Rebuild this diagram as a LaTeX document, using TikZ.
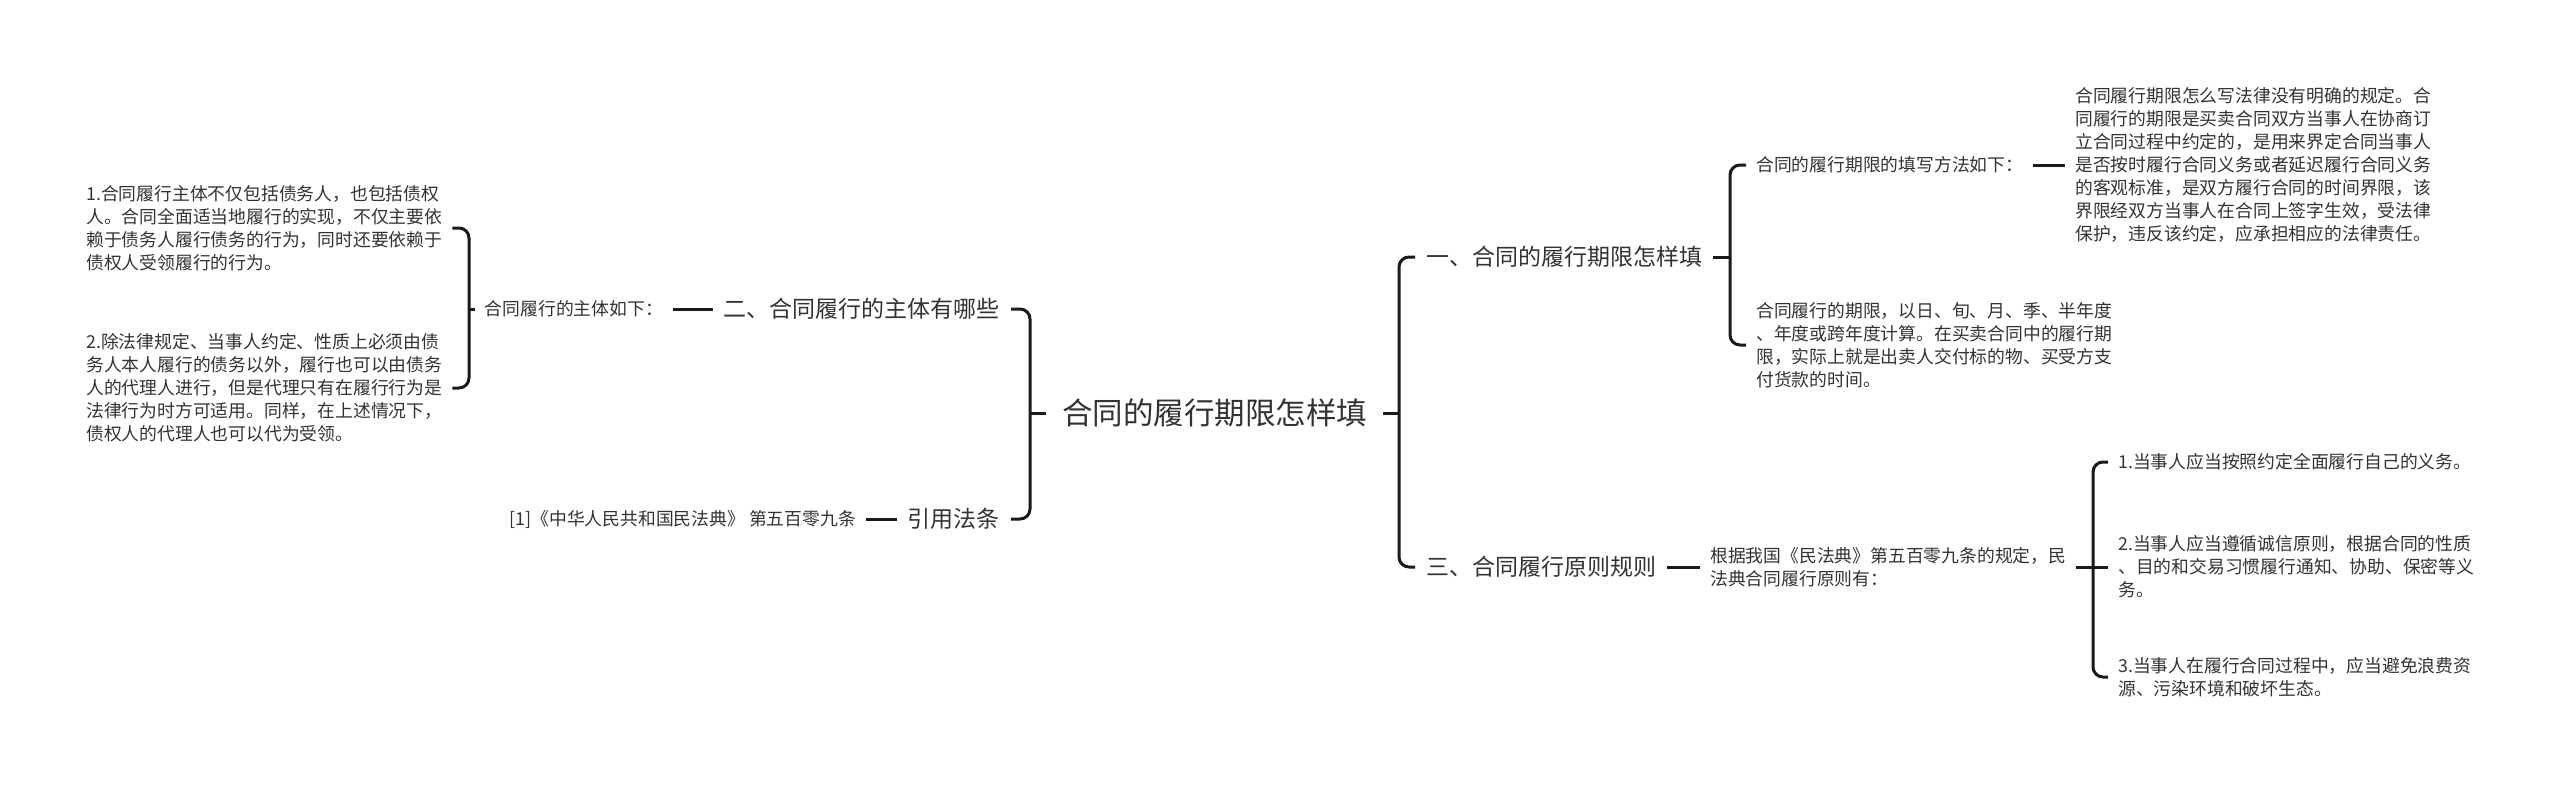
\documentclass[tikz,border=0pt]{standalone}
\usepackage{fontspec}
\setmainfont{Noto Sans CJK SC}
\definecolor{txtc}{HTML}{333333}
\definecolor{linec}{HTML}{1A1A1A}
\begin{document}
\begin{tikzpicture}[x=1pt,y=-1pt,
  line/.style={line width=3pt, draw=linec},
  bracket/.style={line width=3pt, draw=linec, rounded corners=10pt},
  root/.style={inner xsep=16pt, inner ysep=0pt, text=txtc, font=\fontsize{30.5}{36}\selectfont},
  lvlone/.style={inner xsep=11pt, inner ysep=0pt, text=txtc, font=\fontsize{23}{28}\selectfont},
  small/.style={inner xsep=10pt, inner ysep=0pt, text=txtc, align=left, font=\fontsize{17.8}{23}\selectfont}
]
\useasboundingbox (0,0) rectangle (2560,785);
\fill[white] (0,0) rectangle (2560,785);

% root
\node[root, anchor=west] (c) at (1046,413) {合同的履行期限怎样填};

% level one
\node[lvlone, anchor=west] (n1) at (1415,257) {一、合同的履行期限怎样填};
\node[lvlone, anchor=west] (n3) at (1415,567) {三、合同履行原则规则};
\node[lvlone, anchor=east] (n2) at (1011,309) {二、合同履行的主体有哪些};
\node[lvlone, anchor=east] (n4) at (1011,519) {引用法条};

% level two, left
\node[small, anchor=east] (n2a) at (673,309) {合同履行的主体如下：};
\node[small, anchor=east] (n4a) at (866,519) {[1]《中华人民共和国民法典》 第五百零九条};
\node[small, anchor=west] (L1) at (76,228) {1.合同履行主体不仅包括债务人，也包括债权\\人。合同全面适当地履行的实现，不仅主要依\\赖于债务人履行债务的行为，同时还要依赖于\\债权人受领履行的行为。};
\node[small, anchor=west] (L2) at (76,388) {2.除法律规定、当事人约定、性质上必须由债\\务人本人履行的债务以外，履行也可以由债务\\人的代理人进行，但是代理只有在履行行为是\\法律行为时方可适用。同样，在上述情况下，\\债权人的代理人也可以代为受领。};

% level two, right
\node[small, anchor=west] (n1a) at (1746,165) {合同的履行期限的填写方法如下：};
\node[small, anchor=west] (n1aa) at (2065,165) {合同履行期限怎么写法律没有明确的规定。合\\同履行的期限是买卖合同双方当事人在协商订\\立合同过程中约定的，是用来界定合同当事人\\是否按时履行合同义务或者延迟履行合同义务\\的客观标准，是双方履行合同的时间界限，该\\界限经双方当事人在合同上签字生效，受法律\\保护，违反该约定，应承担相应的法律责任。};
\node[small, anchor=west] (n1b) at (1746,345) {合同履行的期限，以日、旬、月、季、半年度\\、年度或跨年度计算。在买卖合同中的履行期\\限，实际上就是出卖人交付标的物、买受方支\\付货款的时间。};
\node[small, anchor=west] (n3a) at (1700,567) {根据我国《民法典》第五百零九条的规定，民\\法典合同履行原则有：};
\node[small, anchor=west] (p1) at (2108,462) {1.当事人应当按照约定全面履行自己的义务。};
\node[small, anchor=west] (p2) at (2108,567) {2.当事人应当遵循诚信原则，根据合同的性质\\、目的和交易习惯履行通知、协助、保密等义\\务。};
\node[small, anchor=west] (p3) at (2108,677) {3.当事人在履行合同过程中，应当避免浪费资\\源、污染环境和破坏生态。};

% junctions
\coordinate (jCL) at (1030,413);
\coordinate (jCR) at (1399,413);
\coordinate (j1) at (1730,257);
\coordinate (j2) at (469,309);
\coordinate (j3) at (2093,567);

% connectors
\draw[line] (c.west) -- (jCL);
\draw[bracket] (n2.east) -| (jCL) |- (n4.east);
\draw[line] (c.east) -- (jCR);
\draw[bracket] (n1.west) -| (jCR) |- (n3.west);

\draw[line] (n2a.east) -- (n2.west);
\draw[line] (n4a.east) -- (n4.west);
\draw[line] (n2a.west) -- (j2);
\draw[bracket] (L1.east) -| (j2) |- (L2.east);

\draw[line] (n1.east) -- (j1);
\draw[bracket] (n1a.west) -| (j1) |- (n1b.west);
\draw[line] (n1a.east) -- (n1aa.west);

\draw[line] (n3.east) -- (n3a.west);
\draw[line] (n3a.east) -- (j3) -- (p2.west);
\draw[bracket] (p1.west) -| (j3) |- (p3.west);
\end{tikzpicture}
\end{document}
